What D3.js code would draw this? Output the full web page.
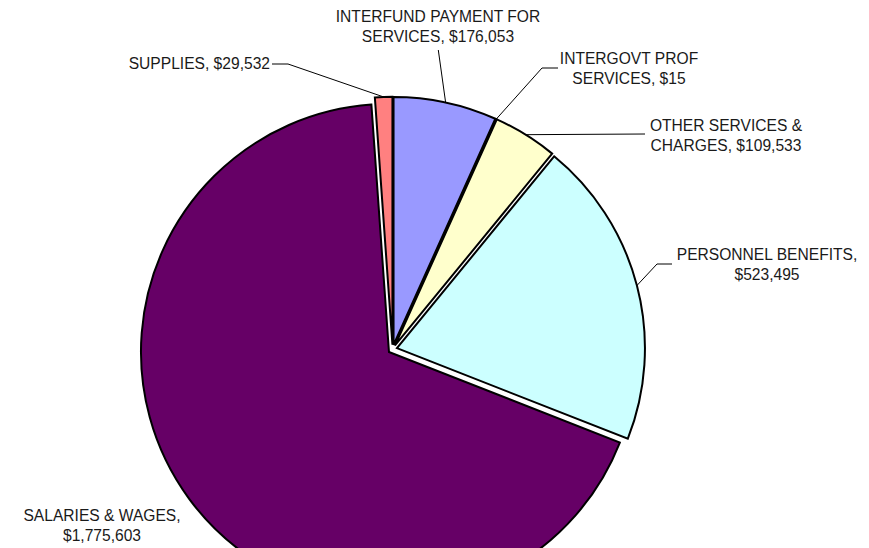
<!DOCTYPE html>
<html><head><meta charset="utf-8">
<script src="https://cdn.jsdelivr.net/npm/d3@7"></script>
<style>body{margin:0;background:#fff;overflow:hidden}</style>
</head><body><svg id="chart" width="869" height="548"></svg>
<script>
// ---- data ----
const categories = ["INTERFUND PAYMENT FOR SERVICES","INTERGOVT PROF SERVICES","OTHER SERVICES & CHARGES","PERSONNEL BENEFITS","SALARIES & WAGES","SUPPLIES"];
const values = [176053, 15, 109533, 523495, 1775603, 29532];
const labelLines = [
  ["INTERFUND PAYMENT FOR","SERVICES, $176,053"],
  ["INTERGOVT PROF","SERVICES, $15"],
  ["OTHER SERVICES &","CHARGES, $109,533"],
  ["PERSONNEL BENEFITS,","$523,495"],
  ["SALARIES & WAGES,","$1,775,603"],
  ["SUPPLIES, $29,532"]
];
const colors = ["#9999FF","#993366","#FFFFCC","#CCFFFF","#660066","#FF8080"];

// ---- layout ----
const cx = 392.6, cy = 349.3, R = 248, explode = 4.5;
const layout = [
  {x:438, y:21.5, anchor:"middle", leader:[[438.3,50]]},
  {x:629, y:63.5, anchor:"middle", leader:[[558,68],[542,68]]},
  {x:726, y:130.7, anchor:"middle", leader:[[645,134]]},
  {x:767, y:260, anchor:"middle", leader:[[672,264],[657,264]]},
  {x:102, y:520.5, anchor:"middle", leader:null},
  {x:270, y:69, anchor:"end", leader:[[272,64],[288,64]]}
];

const svg = d3.select("#chart");
const pie = d3.pie().sort(null).value(d => d).startAngle(0).endAngle(2*Math.PI);
const arcs = pie(values);
const arc = d3.arc().innerRadius(0).outerRadius(R);

const g = svg.append("g").attr("transform", `translate(${cx},${cy})`);
arcs.forEach((a, i) => {
  const mid = (a.startAngle + a.endAngle) / 2;
  a.dx = explode * Math.sin(mid);
  a.dy = -explode * Math.cos(mid);
  a.ex = cx + a.dx + R * Math.sin(mid);
  a.ey = cy + a.dy - R * Math.cos(mid);
});

g.selectAll("path.slice").data(arcs).join("path")
  .attr("class","slice")
  .attr("transform", d => `translate(${d.dx},${d.dy})`)
  .attr("d", arc)
  .attr("fill", (d,i) => colors[i])
  .attr("stroke", "#000")
  .attr("stroke-width", 2)
  .attr("stroke-linejoin", "miter");

// leader lines
arcs.forEach((a, i) => {
  const L = layout[i];
  if (!L.leader) return;
  const pts = L.leader.concat([[a.ex, a.ey]]);
  svg.append("path")
    .attr("d", d3.line()(pts))
    .attr("fill", "none")
    .attr("stroke", "#000")
    .attr("stroke-width", 1);
});

// labels
labelLines.forEach((lines, i) => {
  const L = layout[i];
  const t = svg.append("text")
    .attr("x", L.x).attr("y", L.y)
    .attr("text-anchor", L.anchor)
    .attr("font-family", "'Liberation Sans', Arial, sans-serif")
    .attr("font-size", "15.6px")
    .attr("fill", "#1a1a1a");
  lines.forEach((ln, j) => {
    t.append("tspan").attr("x", L.x).attr("y", L.y + j * 20.3).text(ln);
  });
});
</script>
</body></html>
